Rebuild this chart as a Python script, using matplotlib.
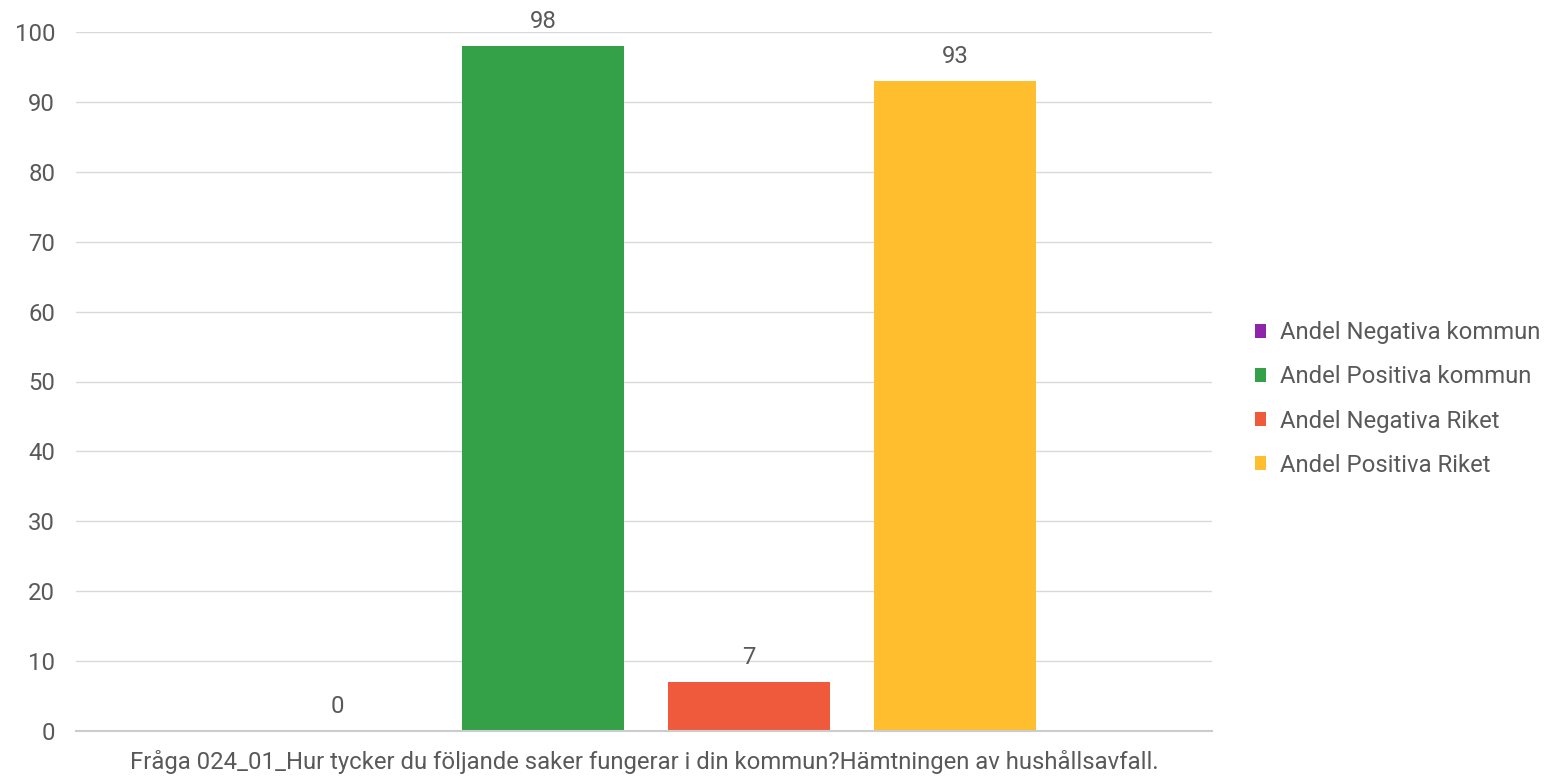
import matplotlib
matplotlib.use("Agg")
import matplotlib.pyplot as plt
from matplotlib.patches import Patch

plt.rcParams['font.family'] = ['Roboto', 'DejaVu Sans']

series = ["Andel Negativa kommun", "Andel Positiva kommun", "Andel Negativa Riket", "Andel Positiva Riket"]
values = [0, 98, 7, 93]
colors = ["#8e24aa", "#34a047", "#ef5a3d", "#ffbe2e"]
category = "Fråga 024_01_Hur tycker du följande saker fungerar i din kommun?Hämtningen av hushållsavfall."
yticks = [0, 10, 20, 30, 40, 50, 60, 70, 80, 90, 100]

txt = "#595959"
fs = 17.2
fig = plt.figure(figsize=(15.48, 7.77), dpi=100)
ax = fig.add_axes([76/1548, 1 - 731/777, (1212-76)/1548, (731-32)/777])

step = 206/1136
width = 162/1136
shift = 2/1136
for i, (s, v, c) in enumerate(zip(series, values, colors)):
    x = (i - 1.5) * step + shift
    ax.bar(x, v, width=width, color=c, zorder=2)
    ax.text(x, v + 1.8, f"{v}", ha="center", va="bottom", fontsize=fs, color=txt)

ax.set_xlim(-0.5, 0.5)
ax.set_ylim(0, 100)
ax.set_yticks(yticks)
ax.set_yticklabels([str(t) for t in yticks])
ax.set_xticks([0])
ax.set_xticklabels([category])
ax.tick_params(axis="both", length=0, labelsize=fs, colors=txt)
ax.tick_params(axis="y", pad=15)
ax.tick_params(axis="x", pad=14)
ax.grid(axis="y", color="#d9d9d9", linewidth=1, zorder=0)
for sp in ["top", "right", "left"]:
    ax.spines[sp].set_visible(False)
ax.spines["bottom"].set_color("#cccccc")
ax.spines["bottom"].set_linewidth(1.5)

handles = [Patch(facecolor=c, label=s) for s, c in zip(series, colors)]
leg = fig.legend(handles=handles, loc="center left", bbox_to_anchor=(1233/1548, 1 - 399/777),
                 frameon=False, fontsize=fs, handlelength=0.5, handleheight=0.5,
                 handletextpad=0.55, labelspacing=0.88, labelcolor=txt)

fig.savefig("out.png", dpi=100)
